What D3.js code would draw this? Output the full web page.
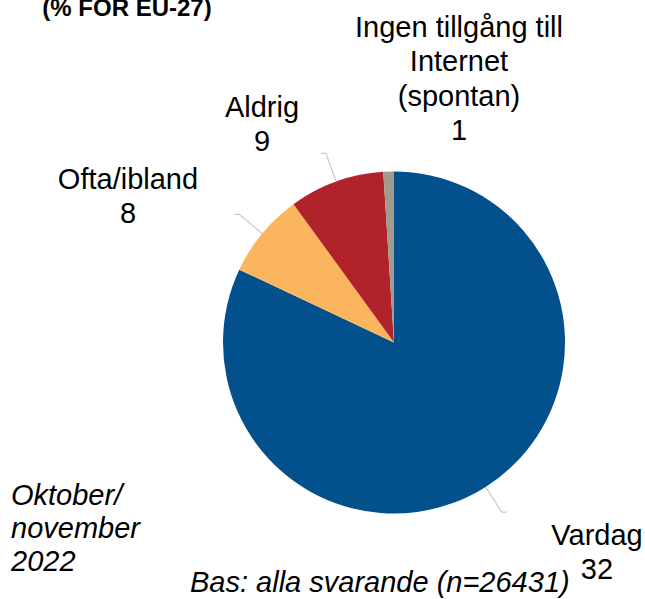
<!DOCTYPE html>
<html>
<head>
<meta charset="utf-8">
<script src="https://cdn.jsdelivr.net/npm/d3@7"></script>
<style>
  body { margin: 0; background: #fff; }
  svg text { font-family: "Liberation Sans", Arial, sans-serif; fill: #000; }
  .lbl { font-size: 29px; text-anchor: middle; }
  .note { font-size: 29px; font-style: italic; }
  .title { font-size: 24px; font-weight: bold; text-anchor: middle; }
</style>
</head>
<body>
<svg width="645" height="599"></svg>
<script>
// slices, clockwise from 12 o'clock
var categories = ["Vardag", "Ofta/ibland", "Aldrig", "Ingen tillgång till|Internet|(spontan)"];
var values = [82, 8, 9, 1];
var valueLabels = ["32", "8", "9", "1"];
var colors = ["#02508c", "#fbb55e", "#b1232a", "#a39a8e"];

var svg = d3.select("svg");
var cx = 394, cy = 342.5, r = 171;

var pie = d3.pie().sort(null).value(function(d) { return d; });
var arcs = pie(values);
var arc = d3.arc().innerRadius(0).outerRadius(r);

var g = svg.append("g").attr("transform", "translate(" + cx + "," + cy + ")");

g.selectAll("path.slice")
  .data(arcs)
  .enter().append("path")
  .attr("class", "slice")
  .attr("d", arc)
  .attr("fill", function(d, i) { return colors[i]; });

// leader lines (not for the tiny slice)
var inner = d3.arc().innerRadius(r).outerRadius(r);
var outer = d3.arc().innerRadius(201).outerRadius(201);
arcs.slice(0, 3).forEach(function(d) {
  var a = inner.centroid(d), b = outer.centroid(d);
  var hook = b[0] > 0 ? 5 : -5;
  g.append("polyline")
    .attr("points", [a, b, [b[0] + hook, b[1]]].map(function(p) { return p.join(","); }).join(" "))
    .attr("fill", "none")
    .attr("stroke", "#c8c8c8")
    .attr("stroke-width", 1.2);
});

// labels
var labelPos = [[597, 545], [128, 189], [262, 117], [459, 37]];
categories.forEach(function(c, i) {
  var lines = c.split("|").concat([valueLabels[i]]);
  var t = svg.append("text").attr("class", "lbl")
    .attr("x", labelPos[i][0]).attr("y", labelPos[i][1]);
  lines.forEach(function(l, j) {
    t.append("tspan").attr("x", labelPos[i][0]).attr("dy", j ? 34.3 : 0).text(l);
  });
});

svg.append("text").attr("class", "title").attr("x", 127).attr("y", 16).text("(% FOR EU-27)");

var dateLines = ["Oktober/", "november", "2022"];
var dt = svg.append("text").attr("class", "note").attr("x", 11).attr("y", 505);
dateLines.forEach(function(l, j) {
  dt.append("tspan").attr("x", 11).attr("dy", j ? 33 : 0).text(l);
});

svg.append("text").attr("class", "note").attr("x", 190).attr("y", 592)
  .text("Bas: alla svarande (n=26431)");
</script>
</body>
</html>
